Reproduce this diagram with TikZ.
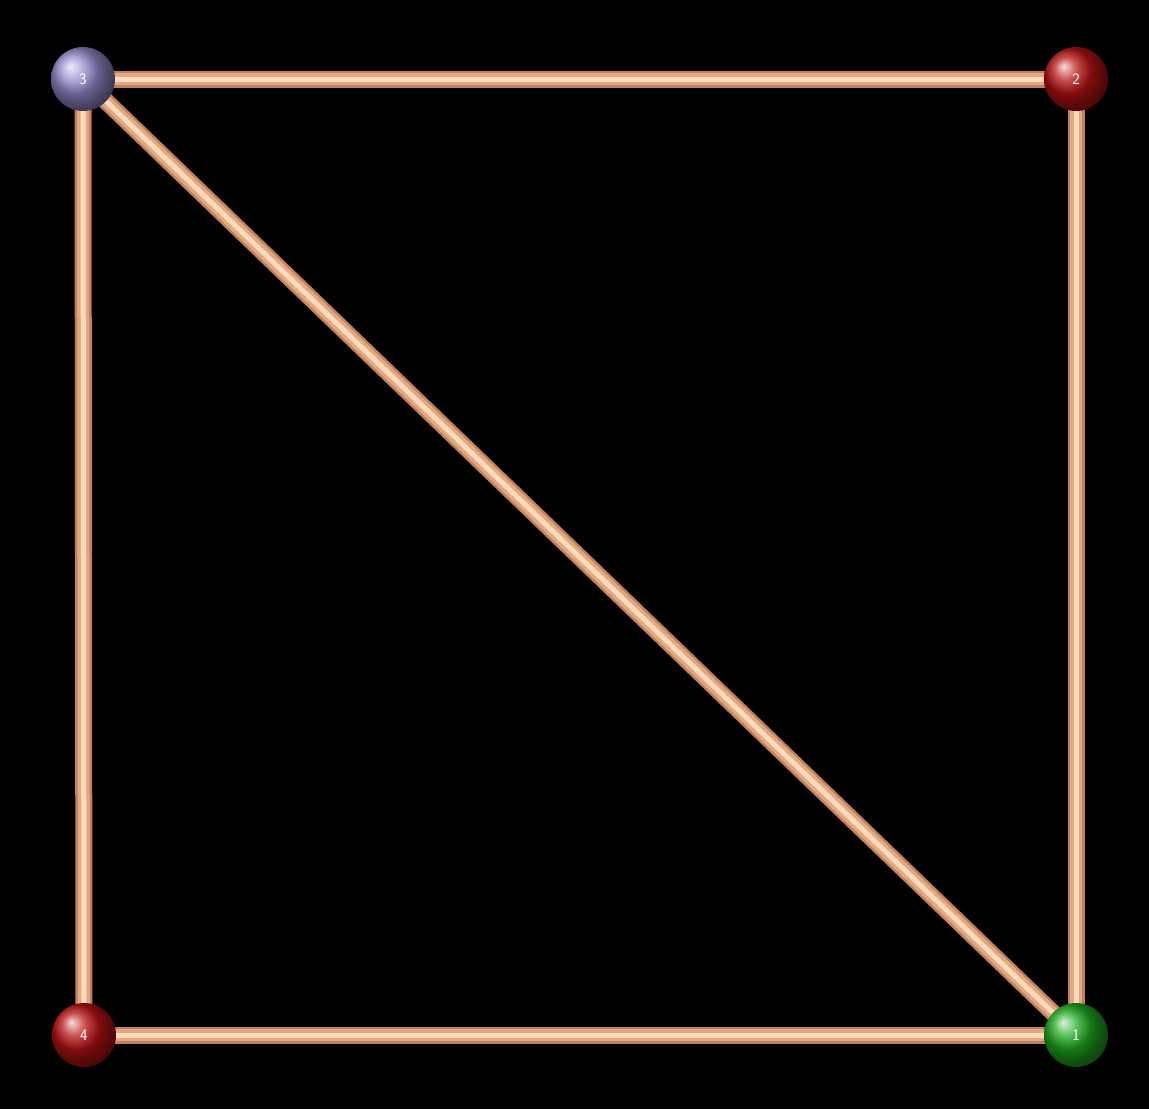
\documentclass[tikz,border=0pt]{standalone}
\usetikzlibrary{backgrounds}
\definecolor{rodD}{RGB}{190,130,95}
\definecolor{rodM}{RGB}{228,168,128}
\definecolor{rodL}{RGB}{252,218,190}
\definecolor{ballR}{RGB}{185,18,18}
\definecolor{ballG}{RGB}{30,170,30}
\definecolor{ballP}{RGB}{150,140,205}
\tikzset{
  ball/.style={circle, minimum size=64pt, inner sep=0pt, ball color=#1, text=white, font=\sffamily\fontsize{16}{16}\selectfont},
  rod/.style={line width=17pt, draw=rodD, postaction={draw=rodM, line width=12pt}, postaction={draw=rodL, line width=5pt}}
}
\begin{document}
\begin{tikzpicture}[x=1pt,y=-1pt]
\useasboundingbox (0,0) rectangle (1149,1109);
\node[ball=ballG] (n1) at (1076,1035) {1};
\node[ball=ballR] (n2) at (1076,79) {2};
\node[ball=ballP] (n3) at (83,79) {3};
\node[ball=ballR] (n4) at (84,1035) {4};
\begin{scope}[on background layer]
\fill[black] (0,0) rectangle (1149,1109);
\draw[rod] (n3.center) -- (n2.center);
\draw[rod] (n2.center) -- (n1.center);
\draw[rod] (n3.center) -- (n4.center);
\draw[rod] (n4.center) -- (n1.center);
\draw[rod] (n3.center) -- (n1.center);
\end{scope}
\end{tikzpicture}
\end{document}
